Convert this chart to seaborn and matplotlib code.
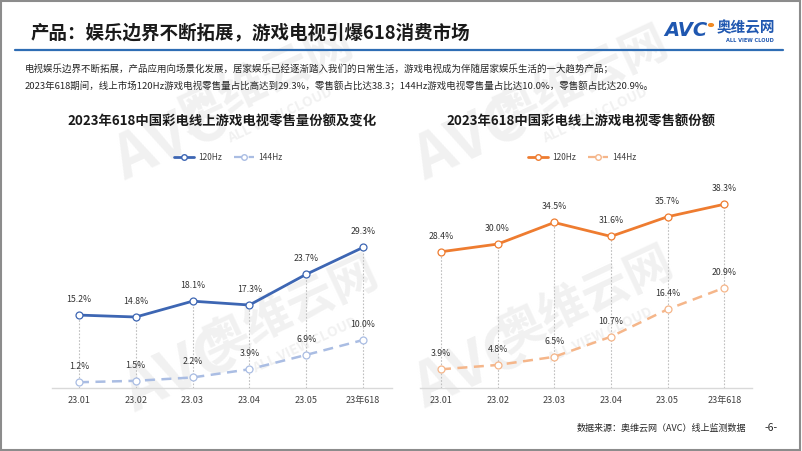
import numpy as np
import pandas as pd
import matplotlib.pyplot as plt
import seaborn as sns
from matplotlib.lines import Line2D
from matplotlib.patches import Rectangle, Circle

# =====================================================
# DATA
# =====================================================

months = ["23.01", "23.02", "23.03", "23.04", "23.05", "23年618"]

vol_120 = [15.2, 14.8, 18.1, 17.3, 23.7, 29.3]
vol_144 = [1.2, 1.5, 2.2, 3.9, 6.9, 10.0]

amt_120 = [28.4, 30.0, 34.5, 31.6, 35.7, 38.3]
amt_144 = [3.9, 4.8, 6.5, 10.7, 16.4, 20.9]

series_names = ["120Hz", "144Hz"]

main_title = "产品：娱乐边界不断拓展，游戏电视引爆618消费市场"
intro_1 = "电视娱乐边界不断拓展，产品应用向场景化发展，居家娱乐已经逐渐踏入我们的日常生活，游戏电视成为伴随居家娱乐生活的一大趋势产品；"
intro_2 = "2023年618期间，线上市场120Hz游戏电视零售量占比高达到29.3%，零售额占比达38.3；144Hz游戏电视零售量占比达10.0%，零售额占比达20.9%。"
title_left = "2023年618中国彩电线上游戏电视零售量份额及变化"
title_right = "2023年618中国彩电线上游戏电视零售额份额"
source = "数据来源：奥维云网（AVC）线上监测数据"

# =====================================================
# STYLE
# =====================================================

sns.set_theme(style="white")
plt.rcParams['font.family'] = ['Noto Sans CJK SC', 'DejaVu Sans']

W, H = 802, 451
fig = plt.figure(figsize=(W / 100, H / 100), dpi=100)


def fx(px):
    return px / W


def fy(py):
    return 1 - py / H


# watermark (behind everything)
wm = "#f1f1f1"
for (ax_, ay_), (bx_, by_) in [((170, 140), (265, 80)), ((180, 372), (290, 310)),
                               ((470, 140), (580, 80)), ((470, 368), (585, 300))]:
    fig.text(fx(ax_), fy(ay_), "AVC", fontsize=44, fontweight="bold", style="italic",
             color=wm, rotation=25, ha="center", va="center", zorder=-2)
    fig.text(fx(bx_), fy(by_), "奥维云网", fontsize=34, fontweight="bold",
             color=wm, rotation=25, ha="center", va="center", zorder=-2)
    fig.text(fx(bx_ + 15), fy(by_ + 35), "ALL VIEW CLOUD", fontsize=10, fontweight="bold",
             color=wm, rotation=25, ha="center", va="center", zorder=-2)

# frame
fig.patches.append(Rectangle((0.001, 0.002), 0.997, 0.995, transform=fig.transFigure,
                             fill=False, edgecolor="#8c8c8c", linewidth=1.5))

# header
fig.text(fx(31), fy(33), main_title, fontsize=13.3, fontweight="bold",
         color="#1a1a1a", va="center")
fig.add_artist(Line2D([fx(15), fx(783)], [fy(50), fy(50)], color="#2e6db4", linewidth=1.6))

fig.text(fx(664), fy(31), "AVC", fontsize=14, fontweight="bold", style="italic",
         color="#1f57b0", va="center", family="DejaVu Sans")
fig.patches.append(Circle((fx(711), fy(25)), 0.003, transform=fig.transFigure,
                          color="#f08a24"))
fig.text(fx(717), fy(27), "奥维云网", fontsize=10.5, fontweight="bold",
         color="#1f57b0", va="center")
fig.text(fx(726), fy(40), "ALL VIEW CLOUD", fontsize=3.6, fontweight="bold",
         color="#1f57b0", va="center", family="DejaVu Sans")

fig.text(fx(25), fy(69), intro_1, fontsize=6.8, color="#262626", va="center")
fig.text(fx(25), fy(86), intro_2, fontsize=6.8, color="#262626", va="center")

# =====================================================
# CHARTS
# =====================================================

ybot, ytop = 388, 175
ax1 = fig.add_axes([fx(51.7), fy(ybot), fx(391.7) - fx(51.7), fy(ytop) - fy(ybot)])
ax2 = fig.add_axes([fx(420), fy(ybot), fx(752) - fx(420), fy(ytop) - fy(ybot)])

panels = [
    (ax1, vol_120, vol_144, "#3d66b3", "#aabde3", (-0.48, 5.505), title_left, 222, 228),
    (ax2, amt_120, amt_144, "#ee7c30", "#f5b68a", (-0.37, 5.49), title_right, 581, 582),
]

x = np.arange(len(months))

for ax, s120, s144, c1, c2, xl, ttl, tx, lx in panels:
    ax.set_facecolor("none")
    df = pd.DataFrame({"x": x, "v120": s120, "v144": s144})

    # drop lines
    for xi, v in zip(x, s120):
        ax.plot([xi, xi], [0, v], color="#bfbfbf", linewidth=0.8,
                linestyle=(0, (1.5, 1.5)), zorder=1)

    sns.lineplot(data=df, x="x", y="v120", ax=ax, color=c1, linewidth=2.0,
                 marker="o", markersize=5, markerfacecolor="white",
                 markeredgecolor=c1, markeredgewidth=0.9, zorder=3)
    sns.lineplot(data=df, x="x", y="v144", ax=ax, color=c2, linewidth=1.8,
                 linestyle=(0, (4, 2.6)), marker="o", markersize=5,
                 markerfacecolor="white", markeredgecolor=c2,
                 markeredgewidth=0.9, zorder=3)

    for xi, v in zip(x, s120):
        ax.annotate(f"{v:.1f}%", (xi, v), xytext=(0, 8), textcoords="offset points",
                    ha="center", va="bottom", fontsize=6.3, color="#333333")
    for xi, v in zip(x, s144):
        ax.annotate(f"{v:.1f}%", (xi, v), xytext=(0, 8), textcoords="offset points",
                    ha="center", va="bottom", fontsize=6.3, color="#333333")

    ax.set_xlim(*xl)
    ax.set_ylim(0, 44.4)
    ax.set_xticks(x)
    ax.set_xticklabels(months, fontsize=6.5, color="#404040")
    ax.set_yticks([])
    ax.tick_params(axis="x", length=0, pad=6)
    ax.set_xlabel("")
    ax.set_ylabel("")
    for s in ["top", "right", "left"]:
        ax.spines[s].set_visible(False)
    ax.spines["bottom"].set_color("#d9d9d9")
    ax.spines["bottom"].set_linewidth(1.0)

    fig.text(fx(tx), fy(122), ttl, fontsize=9.6, fontweight="bold",
             color="#1a1a1a", ha="center", va="center")

    handles = [
        Line2D([], [], color=c1, linewidth=2.0, marker="o", markersize=4,
               markerfacecolor="white", markeredgecolor=c1),
        Line2D([], [], color=c2, linewidth=1.6, linestyle=(0, (4, 2.6)), marker="o",
               markersize=4, markerfacecolor="white", markeredgecolor=c2),
    ]
    fig.legend(handles, series_names, loc="center", bbox_to_anchor=(fx(lx), fy(157)),
               ncol=2, frameon=False, fontsize=6, handlelength=2.4,
               columnspacing=1.4, handletextpad=0.5, labelcolor="#404040")

# footer
fig.text(fx(577), fy(428), source, fontsize=6.5, color="#262626", va="center")
fig.text(fx(771), fy(428), "-6-", fontsize=7.5, color="#262626", va="center", ha="center")

fig.savefig("out.png", dpi=100)
plt.close(fig)
